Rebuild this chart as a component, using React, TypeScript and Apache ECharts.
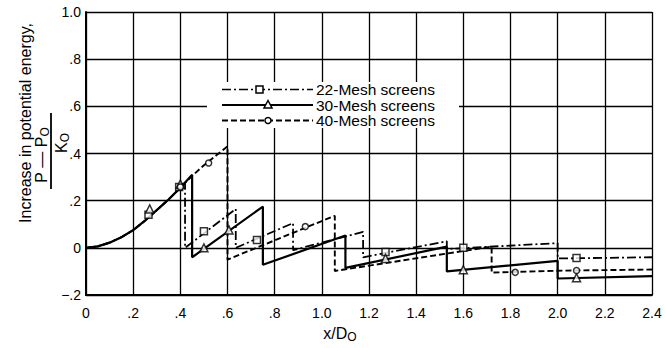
import React, { useEffect, useRef } from "react";
import * as echarts from "echarts";

// Line traces (x/D0, (P-P0)/K0)
const mesh22Line: number[][] = [
  [0, 0], [0.05, 0.006], [0.1, 0.022], [0.15, 0.045], [0.2, 0.075], [0.25, 0.115], [0.3, 0.16], [0.35, 0.205], [0.4, 0.255], [0.42, 0.275],
  [0.42, 0.0], [0.635, 0.165], [0.635, 0.0], [0.878, 0.105], [0.878, -0.01], [1.175, 0.068], [1.175, -0.04],
  [1.53, 0.028], [1.53, -0.005], [2.0, 0.02], [2.0, -0.045], [2.4, -0.04],
];
const mesh30Line: number[][] = [
  [0, 0], [0.05, 0.006], [0.1, 0.022], [0.15, 0.045], [0.2, 0.075], [0.25, 0.115], [0.3, 0.16], [0.35, 0.205], [0.4, 0.255], [0.45, 0.31],
  [0.45, -0.04], [0.75, 0.175], [0.75, -0.072], [1.1, 0.052], [1.1, -0.085], [1.53, 0.005], [1.53, -0.1],
  [2.0, -0.055], [2.0, -0.13], [2.4, -0.12],
];
const mesh40Line: number[][] = [
  [0, 0], [0.05, 0.006], [0.1, 0.022], [0.15, 0.045], [0.2, 0.075], [0.25, 0.115], [0.3, 0.16], [0.35, 0.205], [0.4, 0.255], [0.45, 0.305],
  [0.5, 0.35], [0.55, 0.39], [0.6, 0.43], [0.6, -0.05], [1.055, 0.136], [1.055, -0.098], [1.72, 0.005], [1.72, -0.105],
  [2.0, -0.097], [2.4, -0.092],
];

// Measured points (markers)
const mesh22Points: number[][] = [[0.265, 0.14], [0.395, 0.258], [0.5, 0.07], [0.725, 0.033], [1.27, -0.018], [1.6, 0.0], [2.08, -0.043]];
const mesh30Points: number[][] = [[0.27, 0.165], [0.4, 0.27], [0.5, 0.0], [0.606, 0.076], [1.27, -0.045], [1.6, -0.093], [2.08, -0.127]];
const mesh40Points: number[][] = [[0.4, 0.258], [0.52, 0.36], [0.93, 0.09], [1.82, -0.104], [2.08, -0.096]];

const legendNames = ["22-Mesh screens", "30-Mesh screens", "40-Mesh screens"];

const FONT = "Liberation Sans, Arial, Helvetica, sans-serif";
const DASHDOT = [9, 3, 2, 3];
const DASHED = [6, 3];

function fmt(v: number): string {
  const r = Math.round(v * 10) / 10;
  if (r === 0) return "0";
  const s = Math.abs(r).toFixed(1);
  const body = Math.abs(r) < 1 ? s.replace(/^0/, "") : s;
  return r < 0 ? "\u2212" + body : body;
}

export default function App() {
  const ref = useRef<HTMLDivElement>(null);
  useEffect(() => {
    if (!ref.current) return;
    const chart = echarts.init(ref.current, null, { renderer: "svg" });
    const lineSeries = (name: string, data: number[][], type: any, width: number) => ({
      name,
      type: "line",
      data,
      showSymbol: false,
      symbol: "none",
      lineStyle: { color: "#000", width, type },
      z: 3,
    });
    const markerSeries = (data: number[][], symbol: string, size: number) => ({
      type: "scatter",
      data,
      symbol,
      symbolSize: size,
      itemStyle: { color: "#fff", borderColor: "#000", borderWidth: 1.5 },
      z: 4,
    });
    const legendY = [89.5, 105, 120.5];
    const lx1 = 222, lx2 = 313;
    const legendGraphics: any[] = [
      { type: "rect", shape: { x: 207, y: 82, width: 252, height: 46 }, style: { fill: "#fff" }, z: 10 },
      { type: "line", shape: { x1: lx1, y1: legendY[0], x2: lx2, y2: legendY[0] }, style: { stroke: "#000", lineWidth: 1.6, lineDash: DASHDOT }, z: 11 },
      { type: "line", shape: { x1: lx1, y1: legendY[1], x2: lx2, y2: legendY[1] }, style: { stroke: "#000", lineWidth: 2 }, z: 11 },
      { type: "line", shape: { x1: lx1, y1: legendY[2], x2: lx2, y2: legendY[2] }, style: { stroke: "#000", lineWidth: 1.8, lineDash: DASHED }, z: 11 },
      { type: "rect", shape: { x: 256, y: legendY[0] - 3.5, width: 7, height: 7 }, style: { fill: "#fff", stroke: "#000", lineWidth: 1.5 }, z: 12 },
      { type: "polygon", shape: { points: [[268, legendY[1] - 4.5], [264, legendY[1] + 3], [272, legendY[1] + 3]] }, style: { fill: "#fff", stroke: "#000", lineWidth: 1.5 }, z: 12 },
      { type: "circle", shape: { cx: 268, cy: legendY[2], r: 3 }, style: { fill: "#fff", stroke: "#000", lineWidth: 1.5 }, z: 12 },
    ];
    legendNames.forEach((n, i) => {
      legendGraphics.push({
        type: "text", x: 316, y: legendY[i], z: 12,
        style: { text: n, font: `15.5px ${FONT}`, lineHeight: 13, fill: "#000", textAlign: "left", textVerticalAlign: "middle" },
      });
    });
    const subRich = { sub: { fontSize: 12, fontFamily: FONT, verticalAlign: "bottom", padding: [7, 0, 0, 0] } };
    chart.setOption({
      animation: false,
      backgroundColor: "#fff",
      grid: { left: 86, top: 12, right: 13, bottom: 53, containLabel: false },
      xAxis: {
        type: "value", min: 0, max: 2.4, interval: 0.2,
        axisLine: { show: true, onZero: false, lineStyle: { color: "#000", width: 2 } },
        axisTick: { show: false },
        splitLine: { show: true, lineStyle: { color: "#000", width: 1.3 } },
        axisLabel: { formatter: fmt, color: "#000", fontSize: 14, fontFamily: FONT, margin: 11 },
      },
      yAxis: {
        type: "value", min: -0.2, max: 1.0, interval: 0.2,
        axisLine: { show: true, lineStyle: { color: "#000", width: 2 } },
        axisTick: { show: false },
        splitLine: { show: true, lineStyle: { color: "#000", width: 1.3 } },
        axisLabel: { formatter: fmt, color: "#000", fontSize: 14, fontFamily: FONT, margin: 5 },
      },
      series: [
        lineSeries(legendNames[0], mesh22Line, DASHDOT, 1.8),
        lineSeries(legendNames[2], mesh40Line, DASHED, 1.9),
        lineSeries(legendNames[1], mesh30Line, "solid", 2.2),
        markerSeries(mesh22Points, "rect", 7),
        markerSeries(mesh30Points, "triangle", 8),
        markerSeries(mesh40Points, "circle", 6),
      ],
      graphic: [
        ...legendGraphics,
        {
          type: "text", x: 25, y: 123, rotation: Math.PI / 2,
          style: { text: "Increase in potential energy,", font: `16px ${FONT}`, fill: "#000", textAlign: "center", textVerticalAlign: "middle" },
        },
        {
          type: "text", x: 41, y: 155, rotation: Math.PI / 2,
          style: { text: "P \u2014 P{sub|O}", rich: subRich, font: `16px ${FONT}`, fontSize: 16, fontFamily: FONT, fill: "#000", align: "center", verticalAlign: "middle" },
        },
        { type: "line", shape: { x1: 51, y1: 113, x2: 51, y2: 189 }, style: { stroke: "#000", lineWidth: 1.8 } },
        {
          type: "text", x: 61, y: 143, rotation: Math.PI / 2,
          style: { text: "K{sub|O}", rich: subRich, font: `16px ${FONT}`, fontSize: 16, fontFamily: FONT, fill: "#000", align: "center", verticalAlign: "middle" },
        },
        {
          type: "text", x: 340, y: 333,
          style: { text: "x/D{sub|O}", rich: subRich, font: `16px ${FONT}`, fontSize: 16, fontFamily: FONT, fill: "#000", align: "center", verticalAlign: "middle" },
        },
      ],
    });
    return () => chart.dispose();
  }, []);
  return <div ref={ref} style={{ width: 665, height: 348, position: "absolute", left: 0, top: 0 }} />;
}
